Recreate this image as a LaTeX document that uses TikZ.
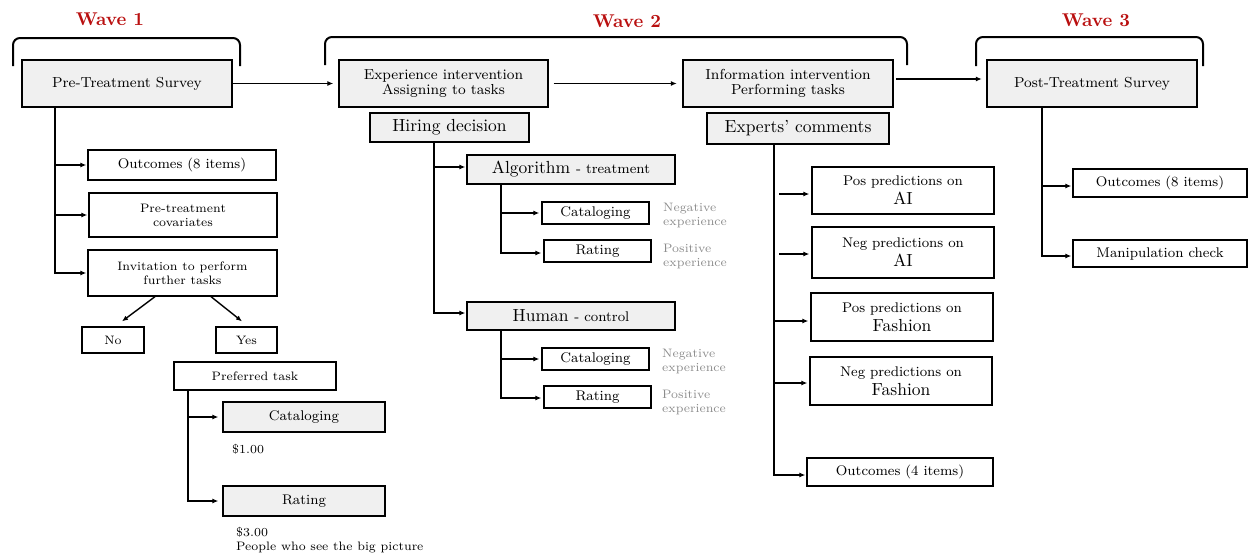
\documentclass[tikz,border=0pt]{standalone}
\usepackage{fontspec}
\usetikzlibrary{arrows.meta}
\newfontfamily\lmX{lmroman10-regular.otf}
\newfontfamily\lmVIII{lmroman8-regular.otf}
\newfontfamily\lmVII{lmroman7-regular.otf}
\newfontfamily\lmXbf{lmroman10-bold.otf}
\definecolor{boxfill}{RGB}{240,240,240}
\definecolor{wavered}{RGB}{185,15,15}
\definecolor{labgray}{RGB}{140,140,140}
\newcommand\fsA{\lmVIII\fontsize{14}{15}\selectfont}
\newcommand\fsM{\lmVIII\fontsize{14.5}{15}\selectfont}
\newcommand\fsB{\lmVII\fontsize{12.25}{14}\selectfont}
\newcommand\fsP{\lmVIII\fontsize{14}{19}\selectfont}
\newcommand\fsC{\lmX\fontsize{17.5}{20}\selectfont}
\newcommand\fsS{\lmVIII\fontsize{14}{16}\selectfont}
\newcommand\fsG{\lmVII\fontsize{12.25}{14}\selectfont}
\newcommand\fsW{\lmXbf\fontsize{18.5}{20}\selectfont}
\begin{document}
\begin{tikzpicture}[x=1pt,y=-1pt,
  bx/.style={draw=black, line width=1.3pt, fill=white, inner sep=0pt, align=center, font=\fsA},
  gbx/.style={bx, fill=boxfill},
  tbx/.style={gbx, line width=2.4pt, font=\fsM},
  con/.style={line width=1.4pt},
  arr/.style={con, -{Latex[length=6pt,width=5pt]}},
  marr/.style={arr, line width=1.8pt},
  brace/.style={line width=2pt, rounded corners=7pt},
  wave/.style={text=wavered, font=\fsW, inner sep=0pt},
  note/.style={font=\fsB, align=left, inner sep=0pt, anchor=west},
  glab/.style={note, text=labgray, font=\fsG}]
\useasboundingbox (0,0) rectangle (1248,554);

% wave labels and brackets
\node[wave] (w1) at (110,19.5) {Wave 1};
\node[wave] (w2) at (627,21) {Wave 2};
\node[wave] (w3) at (1096,20.5) {Wave 3};
\draw[brace] (13,66) -- (13,38) -- (240,38) -- (240,66);
\draw[brace] (325,65) -- (325,37) -- (907,37) -- (907,65);
\draw[brace] (976,66) -- (976,37) -- (1203,37) -- (1203,66);

% main boxes
\node[tbx, minimum width=210pt, minimum height=47pt] (pre) at (127,83.5) {Pre-Treatment Survey};
\node[gbx, font=\fsM, minimum width=209pt, minimum height=47pt] (exp) at (443.5,83.5) {Experience intervention\\Assigning to tasks};
\node[tbx, minimum width=210pt, minimum height=47pt] (info) at (788,83.5) {Information intervention\\Performing tasks};
\node[tbx, minimum width=210pt, minimum height=47pt] (post) at (1092,83.5) {Post-Treatment Survey};
\node[gbx, line width=1.6pt, font=\fsC, minimum width=159pt, minimum height=29pt] (hire) at (449.5,127.5) {Hiring decision};
\node[gbx, line width=1.6pt, font=\fsC, minimum width=182pt, minimum height=31pt] (expc) at (798,128.5) {Experts’ comments};

% wave 1 column
\node[bx, minimum width=188pt, minimum height=30pt] (out1) at (182,165) {Outcomes (8 items)};
\node[bx, font=\fsB, minimum width=188pt, minimum height=44pt] (cov) at (183,215) {Pre-treatment\\covariates};
\node[bx, font=\fsB, minimum width=189pt, minimum height=46pt] (inv) at (182.5,273) {Invitation to perform\\further tasks};
\node[bx, font=\fsB, minimum width=62pt, minimum height=26pt] (no) at (113,340) {No};
\node[bx, font=\fsB, minimum width=61pt, minimum height=26pt] (yes) at (246.5,340) {Yes};
\node[bx, font=\fsB, minimum width=162pt, minimum height=28pt] (pref) at (255,376) {Preferred task};
\node[gbx, minimum width=162pt, minimum height=30pt] (cat1) at (304,417) {Cataloging};
\node[gbx, minimum width=162pt, minimum height=30pt] (rat1) at (304,501) {Rating};
\node[note] (p1) at (232,449) {\$1.00};
\node[note, anchor=north west] (p3) at (236,527) {\$3.00\\People who see the big picture};

% wave 2 experience column
\node[gbx, font=\fsC, minimum width=208pt, minimum height=29pt] (alg) at (571,169.5) {Algorithm {\fsS - treatment}};
\node[bx, minimum width=107pt, minimum height=22pt] (cat2) at (595.5,213) {Cataloging};
\node[bx, minimum width=107pt, minimum height=22pt] (rat2) at (597.5,251) {Rating};
\node[glab] (ng1) at (663,216) {Negative\\experience};
\node[glab] (ps1) at (663,257) {Positive\\experience};
\node[gbx, font=\fsC, minimum width=208pt, minimum height=28pt] (hum) at (571,316) {Human {\fsS - control}};
\node[bx, minimum width=107pt, minimum height=22pt] (cat3) at (595.5,359) {Cataloging};
\node[bx, minimum width=107pt, minimum height=22pt] (rat3) at (597.5,397) {Rating};
\node[glab] (ng2) at (662,361.5) {Negative\\experience};
\node[glab] (ps2) at (662,403) {Positive\\experience};

% wave 2 information column
\node[bx, font=\fsP, minimum width=182pt, minimum height=47pt] (pai) at (903,190.5) {Pos predictions on\\{\fsC AI}};
\node[bx, font=\fsP, minimum width=182pt, minimum height=51pt] (nai) at (903,252.5) {Neg predictions on\\{\fsC AI}};
\node[bx, font=\fsP, minimum width=182pt, minimum height=48pt] (pf) at (902,317) {Pos predictions on\\{\fsC Fashion}};
\node[bx, font=\fsP, minimum width=182pt, minimum height=48pt] (nf) at (901,381) {Neg predictions on\\{\fsC Fashion}};
\node[bx, minimum width=186pt, minimum height=28pt] (out4) at (900,472) {Outcomes (4 items)};

% wave 3 column
\node[bx, minimum width=174pt, minimum height=28pt] (out8) at (1160,183) {Outcomes (8 items)};
\node[bx, minimum width=174pt, minimum height=27pt] (manip) at (1160,253.5) {Manipulation check};

% connectors between main boxes
\draw[marr, shorten >=5pt] (pre) -- (exp);
\draw[marr, shorten <=5pt, shorten >=5pt] (exp) -- (info);
\draw[marr, shorten <=2pt, shorten >=4pt] ([yshift=4.5pt]info.east) -- ([yshift=4.5pt]post.west);

% wave 1 connectors
\coordinate (lv) at (55,107);
\draw[arr, shorten >=1pt] (lv) |- (out1);
\draw[arr, shorten >=1pt] (lv) |- (cov);
\draw[arr, shorten >=1pt] (lv) |- (inv);
\draw[arr] ([xshift=-27.5pt]inv.south) -- ([xshift=9pt,yshift=5pt]no.north);
\draw[arr] ([xshift=28.5pt]inv.south) -- ([xshift=-4.5pt,yshift=5pt]yes.north);
\coordinate (pv) at (188,390);
\draw[arr, shorten >=4pt] (pv) |- (cat1);
\draw[arr, shorten >=4pt] (pv) |- (rat1);

% wave 2 experience connectors
\coordinate (hv) at (434,142);
\draw[arr, shorten >=1pt] (hv) |- ([yshift=2.5pt]alg.west);
\draw[arr, shorten >=1pt] (hv) |- ([yshift=3pt]hum.west);
\coordinate (av) at (501,184);
\draw[arr, shorten >=2pt] (av) |- (cat2);
\draw[arr, shorten >=2pt] (av) |- ([yshift=-2pt]rat2.west);
\coordinate (mv) at (501,330);
\draw[arr, shorten >=2pt] (mv) |- (cat3);
\draw[arr, shorten >=2pt] (mv) |- ([yshift=-1pt]rat3.west);

% wave 2 information connectors
\coordinate (ev) at (774,144);
\draw[arr, shorten >=1pt] (ev) |- ([yshift=-3pt]out4.west);
\draw[arr, shorten <=5pt, shorten >=2pt] ([yshift=-3.5pt]pai.west -| ev) -- ([yshift=-3.5pt]pai.west);
\draw[arr, shorten <=5pt, shorten >=2pt] ([yshift=-1.5pt]nai.west -| ev) -- ([yshift=-1.5pt]nai.west);
\draw[arr, shorten >=2pt] ([yshift=-4pt]pf.west -| ev) -- ([yshift=-4pt]pf.west);
\draw[arr, shorten >=2pt] ([yshift=-2pt]nf.west -| ev) -- ([yshift=-2pt]nf.west);

% wave 3 connectors
\coordinate (qv) at (1042,107);
\draw[arr, shorten >=1pt] (qv) |- ([yshift=-3pt]out8.west);
\draw[arr, shorten >=1pt] (qv) |- ([yshift=-2.5pt]manip.west);
\end{tikzpicture}
\end{document}
